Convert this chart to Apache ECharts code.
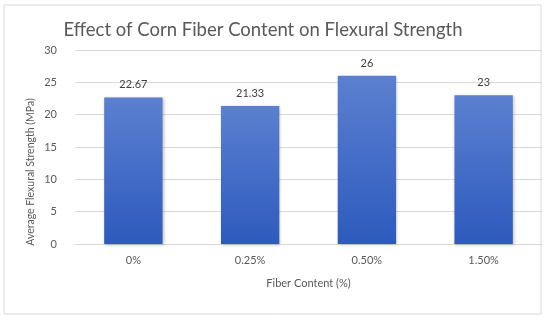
<!DOCTYPE html>
<html><head><meta charset="utf-8">
<script src="https://cdn.jsdelivr.net/npm/echarts@6/dist/echarts.min.js"></script>
<style>html,body{margin:0;padding:0;background:#fff}#c{width:550px;height:321px}</style>
</head><body><div id="c"></div>
<script>
const categories = ['0%', '0.25%', '0.50%', '1.50%'];
const values = [22.67, 21.33, 26, 23];
const labels = ['22.67', '21.33', '26', '23'];
const yTicks = {min: 0, max: 30, interval: 5};
const yName = 'Average Flexural Strength (MPa)';

const chart = echarts.init(document.getElementById('c'), null, {renderer: 'canvas'});
const font = 'Lato, "Open Sans", sans-serif';
chart.setOption({
  animation: false,
  backgroundColor: '#fff',
  graphic: [
    {type: 'rect', shape: {x: 4, y: 5, width: 537, height: 309}, style: {fill: 'none', stroke: '#d9d9d9', lineWidth: 1}, silent: true},
    {type: 'text', x: 31, y: 172, rotation: Math.PI / 2, silent: true,
      style: {text: yName, fontFamily: font, fontSize: 10.5, fill: '#595959', align: 'center', verticalAlign: 'middle'}}
  ],
  title: {text: 'Effect of Corn Fiber Content on Flexural Strength', left: 258, textAlign: 'center', top: 16,
    textStyle: {fontFamily: font, fontWeight: 'normal', fontSize: 18.5, color: '#595959'}},
  grid: {left: 75, right: 8, top: 50, bottom: 77, containLabel: false},
  xAxis: {type: 'category', data: categories,
    name: 'Fiber Content (%)', nameLocation: 'middle', nameGap: 34,
    nameTextStyle: {fontFamily: font, fontSize: 11, color: '#595959'},
    axisLine: {lineStyle: {color: '#d9d9d9'}}, axisTick: {show: false},
    axisLabel: {fontFamily: font, fontSize: 11, color: '#595959', margin: 11}},
  yAxis: {type: 'value', min: yTicks.min, max: yTicks.max, interval: yTicks.interval,
    axisLine: {show: false}, axisTick: {show: false},
    splitLine: {lineStyle: {color: '#d9d9d9'}},
    axisLabel: {fontFamily: font, fontSize: 11, color: '#595959', margin: 18}},
  series: [{type: 'bar', data: values, barCategoryGap: '50%',
    itemStyle: {color: new echarts.graphic.LinearGradient(0, 0, 0, 1, [{offset: 0, color: '#5b80d0'}, {offset: 1, color: '#2d5abe'}]),
      shadowColor: 'rgba(0,0,0,0.25)', shadowBlur: 3, shadowOffsetX: 1, shadowOffsetY: 1},
    label: {show: true, position: 'top', distance: 7, fontFamily: font, fontSize: 11, color: '#404040',
      formatter: p => labels[p.dataIndex]}}]
});
</script></body></html>
